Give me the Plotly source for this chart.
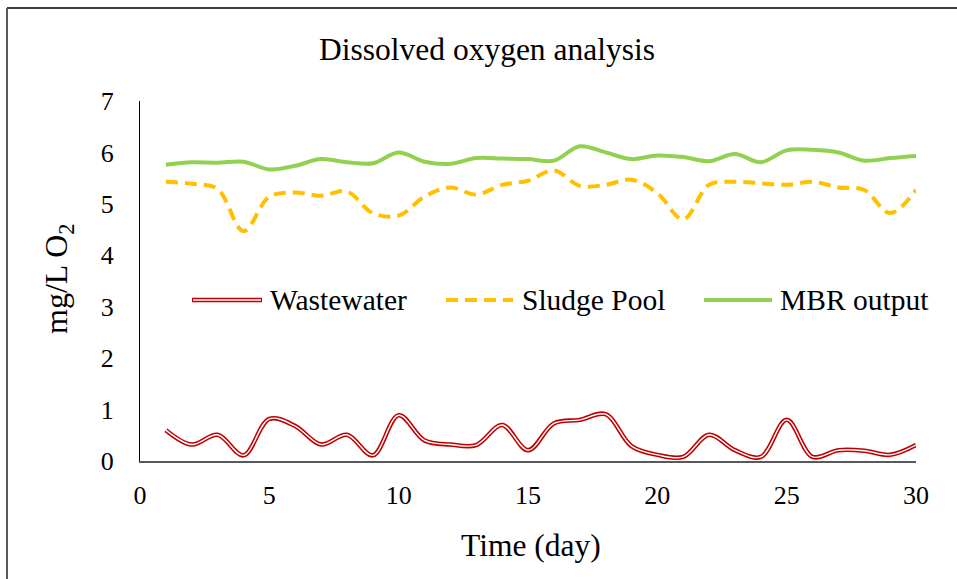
import plotly.graph_objects as go

days = list(range(1, 31))
wastewater = [0.60, 0.32, 0.51, 0.11, 0.82, 0.68, 0.32, 0.51, 0.11, 0.89,
              0.40, 0.32, 0.31, 0.70, 0.21, 0.73, 0.80, 0.91, 0.29, 0.12,
              0.08, 0.51, 0.21, 0.08, 0.80, 0.08, 0.21, 0.20, 0.12, 0.31]
sludge_pool = [5.43, 5.39, 5.29, 4.47, 5.14, 5.22, 5.16, 5.24, 4.82, 4.77,
               5.14, 5.32, 5.18, 5.37, 5.45, 5.65, 5.35, 5.37, 5.47, 5.21,
               4.70, 5.37, 5.43, 5.40, 5.37, 5.43, 5.32, 5.27, 4.82, 5.27]
mbr_output = [5.76, 5.81, 5.80, 5.82, 5.67, 5.74, 5.87, 5.81, 5.79, 6.00,
              5.82, 5.78, 5.89, 5.88, 5.87, 5.84, 6.12, 6.00, 5.87, 5.94,
              5.91, 5.83, 5.97, 5.81, 6.04, 6.05, 6.00, 5.84, 5.89, 5.93]
series_names = ["Wastewater", "Sludge Pool", "MBR output"]
x_ticks = [0, 5, 10, 15, 20, 25, 30]
y_ticks = [0, 1, 2, 3, 4, 5, 6, 7]

RED = "#C00000"
YELLOW = "#FFC000"
GREEN = "#92D050"
FONT = "Liberation Serif"

W, H = 957, 579
L, R, T, B = 140, 41, 101, 118
pw, ph = W - L - R, H - T - B


def px(xp):
    return (xp - L) / pw


def py(yp):
    return (H - B - yp) / ph


fig = go.Figure()
fig.add_trace(go.Scatter(x=days, y=wastewater, mode="lines", name=series_names[0],
                         line=dict(color=RED, width=4.5, shape="spline", smoothing=1),
                         showlegend=False))
fig.add_trace(go.Scatter(x=days, y=wastewater, mode="lines", name=series_names[0] + " inner",
                         line=dict(color="white", width=1.4, shape="spline", smoothing=1),
                         showlegend=False))
fig.add_trace(go.Scatter(x=days, y=sludge_pool, mode="lines", name=series_names[1],
                         line=dict(color=YELLOW, width=4, dash="12px,7px", shape="spline", smoothing=1),
                         showlegend=False))
fig.add_trace(go.Scatter(x=days, y=mbr_output, mode="lines", name=series_names[2],
                         line=dict(color=GREEN, width=4, shape="spline", smoothing=1),
                         showlegend=False))

shapes = []
annotations = []

# outer chart border (top and left visible)
shapes.append(dict(type="line", xref="paper", yref="paper", x0=px(7), x1=px(W + 10),
                   y0=py(8), y1=py(8), line=dict(color="#000000", width=1.5)))
shapes.append(dict(type="line", xref="paper", yref="paper", x0=px(7), x1=px(7),
                   y0=py(8), y1=py(H + 10), line=dict(color="#595959", width=2)))

# manual legend
leg_y = py(300)
legend_items = [
    (192, 262, 268, "red"),
    (446, 513, 520, "yellow"),
    (704, 772, 778, "green"),
]
for (x0, x1, xt, kind), name in zip(legend_items, series_names):
    if kind == "red":
        shapes.append(dict(type="line", xref="paper", yref="paper", x0=px(x0), x1=px(x1),
                           y0=leg_y, y1=leg_y, line=dict(color=RED, width=4.5)))
        shapes.append(dict(type="line", xref="paper", yref="paper", x0=px(x0 + 1), x1=px(x1 - 1),
                           y0=leg_y, y1=leg_y, line=dict(color="white", width=1.4)))
    elif kind == "yellow":
        shapes.append(dict(type="line", xref="paper", yref="paper", x0=px(x0), x1=px(x1),
                           y0=leg_y, y1=leg_y, line=dict(color=YELLOW, width=4, dash="12px,7px")))
    else:
        shapes.append(dict(type="line", xref="paper", yref="paper", x0=px(x0), x1=px(x1),
                           y0=leg_y, y1=leg_y, line=dict(color=GREEN, width=4)))
    annotations.append(dict(text=name, xref="paper", yref="paper", x=px(xt), y=leg_y,
                            xanchor="left", yanchor="middle", showarrow=False,
                            font=dict(family=FONT, size=29.5, color="black")))

# title and axis titles
annotations.append(dict(text="Dissolved oxygen analysis", xref="paper", yref="paper",
                        x=px(487), y=py(49), xanchor="center", yanchor="middle",
                        showarrow=False, font=dict(family=FONT, size=31.5, color="black")))
annotations.append(dict(text="Time (day)", xref="paper", yref="paper",
                        x=px(531), y=py(545), xanchor="center", yanchor="middle",
                        showarrow=False, font=dict(family=FONT, size=31.5, color="black")))
annotations.append(dict(text="mg/L O<sub>2</sub>", xref="paper", yref="paper",
                        x=px(58), y=py(279), xanchor="center", yanchor="middle", textangle=-90,
                        showarrow=False, font=dict(family=FONT, size=32, color="black")))

fig.update_layout(
    width=W, height=H,
    margin=dict(l=L, r=R, t=T, b=B),
    paper_bgcolor="white", plot_bgcolor="white",
    showlegend=False,
    shapes=shapes,
    annotations=annotations,
    font=dict(family=FONT, color="black"),
)
fig.update_xaxes(range=[0, 30], tickvals=x_ticks, ticktext=[str(v) for v in x_ticks],
                 showgrid=False, zeroline=False, showline=True, linecolor="#595959", linewidth=2,
                 ticks="", ticklabelstandoff=10, tickfont=dict(family=FONT, size=26, color="black"))
fig.update_yaxes(range=[0, 7], tickvals=y_ticks, ticktext=[str(v) for v in y_ticks],
                 showgrid=False, zeroline=False, showline=True, linecolor="black", linewidth=1,
                 ticks="", ticklabelstandoff=20, tickfont=dict(family=FONT, size=26, color="black"))

fig.write_html("out.html", config={"displayModeBar": False},
               post_script="document.body.style.margin='0';")
